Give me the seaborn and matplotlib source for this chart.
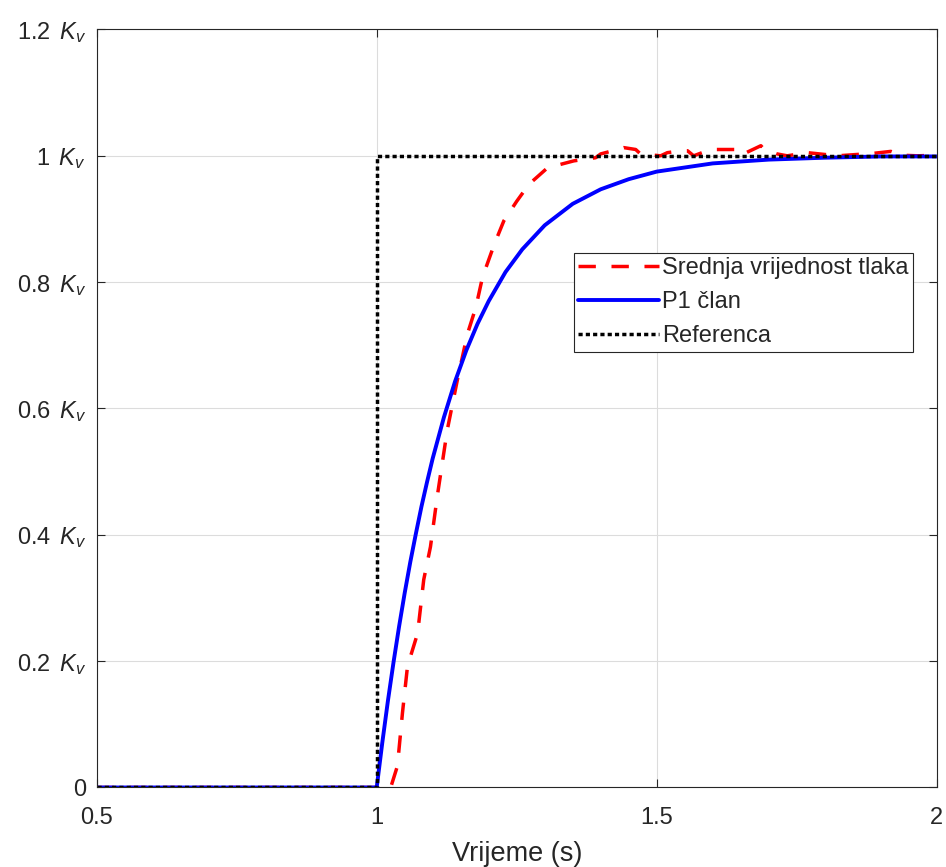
import matplotlib
matplotlib.use("Agg")
import matplotlib.pyplot as plt
import seaborn as sns

# time (s) and responses (in units of K_v)
ref_t = [0.5, 1.0, 1.0, 2.0]
ref_y = [0.0, 0.0, 1.0, 1.0]

p1_t = [0.5, 1.0, 1.01, 1.02, 1.03, 1.04, 1.05, 1.06, 1.07, 1.08, 1.09, 1.10,
        1.12, 1.14, 1.16, 1.18, 1.20, 1.23, 1.26, 1.30, 1.35, 1.40, 1.45,
        1.50, 1.60, 1.70, 1.80, 1.90, 2.0]
p1_y = [0.0, 0.0, 0.071, 0.137, 0.198, 0.255, 0.308, 0.357, 0.402, 0.445,
        0.484, 0.521, 0.586, 0.643, 0.692, 0.734, 0.770, 0.816, 0.852, 0.890,
        0.924, 0.947, 0.963, 0.975, 0.988, 0.994, 0.997, 0.999, 0.999]

tlak_t = [0.5, 1.025, 1.037, 1.046, 1.055, 1.073, 1.084, 1.096, 1.108, 1.126,
          1.144, 1.162, 1.177, 1.189, 1.21, 1.227, 1.25, 1.272, 1.305, 1.352,
          1.391, 1.40, 1.43, 1.441, 1.4625, 1.471, 1.507, 1.519, 1.543, 1.555,
          1.566, 1.596, 1.608, 1.65, 1.655, 1.686, 1.691, 1.715, 1.733, 1.769,
          1.78, 1.823, 1.888, 1.918, 1.936, 1.966, 2.0]
tlak_y = [0.0, 0.0, 0.034, 0.118, 0.192, 0.244, 0.329, 0.381, 0.46, 0.566,
          0.645, 0.718, 0.76, 0.808, 0.86, 0.897, 0.928, 0.955, 0.981, 0.992,
          0.997, 1.003, 1.01, 1.013, 1.01, 1.003, 1.0, 1.005, 1.008, 1.008,
          1.0, 1.01, 1.01, 1.01, 1.003, 1.016, 1.011, 1.003, 1.0, 1.005,
          1.004, 1.0, 1.004, 1.007, 1.001, 1.0, 1.001]

x_ticks = [0.5, 1.0, 1.5, 2.0]
x_labels = ["0.5", "1", "1.5", "2"]
y_ticks = [0, 0.2, 0.4, 0.6, 0.8, 1.0, 1.2]
y_labels = ["0", r"0.2 $\,K_v$", r"0.4 $\,K_v$", r"0.6 $\,K_v$",
            r"0.8 $\,K_v$", r"1 $\,K_v$", r"1.2 $\,K_v$"]

sns.set_theme(style="white")
plt.rcParams["font.family"] = ["Liberation Sans", "DejaVu Sans"]
plt.rcParams["mathtext.fontset"] = "custom"
plt.rcParams["mathtext.it"] = "Liberation Sans:italic"
plt.rcParams["mathtext.rm"] = "Liberation Sans"

fig = plt.figure(figsize=(9.46, 8.67), dpi=100)
ax = fig.add_axes([0.1022, 0.0917, 0.888, 0.8743])

sns.lineplot(x=tlak_t, y=tlak_y, ax=ax, sort=False, estimator=None,
             color="#ff0000", linewidth=2.5, linestyle=(0, (5, 4.5)),
             label="Srednja vrijednost tlaka")
sns.lineplot(x=p1_t, y=p1_y, ax=ax, sort=False, estimator=None,
             color="#0000ff", linewidth=2.8, label="P1 član")
sns.lineplot(x=ref_t, y=ref_y, ax=ax, sort=False, estimator=None,
             color="black", linewidth=2.5, linestyle=(0, (1.2, 0.9)),
             label="Referenca")

ax.set_xlim(0.5, 2)
ax.set_ylim(0, 1.2)
ax.set_xticks(x_ticks)
ax.set_xticklabels(x_labels)
ax.set_yticks(y_ticks)
ax.set_yticklabels(y_labels)
ax.grid(True, color="#dcdcdc", linewidth=0.8)
ax.set_axisbelow(True)

for s in ax.spines.values():
    s.set_color("#262626")
    s.set_linewidth(0.8)
    s.set_visible(True)

ax.tick_params(axis="both", direction="in", length=6, width=0.8,
               colors="#262626", labelsize=17, top=True, right=True,
               bottom=True, left=True)
ax.tick_params(axis="x", pad=14)
ax.tick_params(axis="y", pad=7.5)
ax.set_xlabel("Vrijeme (s)", fontsize=19.5, color="#262626", labelpad=8.5)
ax.set_ylabel("")

leg = ax.legend(loc="upper right", bbox_to_anchor=(0.9718, 0.7056),
                fontsize=17, frameon=True, fancybox=False, framealpha=1,
                edgecolor="#262626", handlelength=3.4, handletextpad=0.13,
                labelspacing=0.5, borderpad=0.2, borderaxespad=0)
leg.get_frame().set_linewidth(0.8)
for t in leg.get_texts():
    t.set_color("#262626")

fig.savefig("out.png", dpi=100)
